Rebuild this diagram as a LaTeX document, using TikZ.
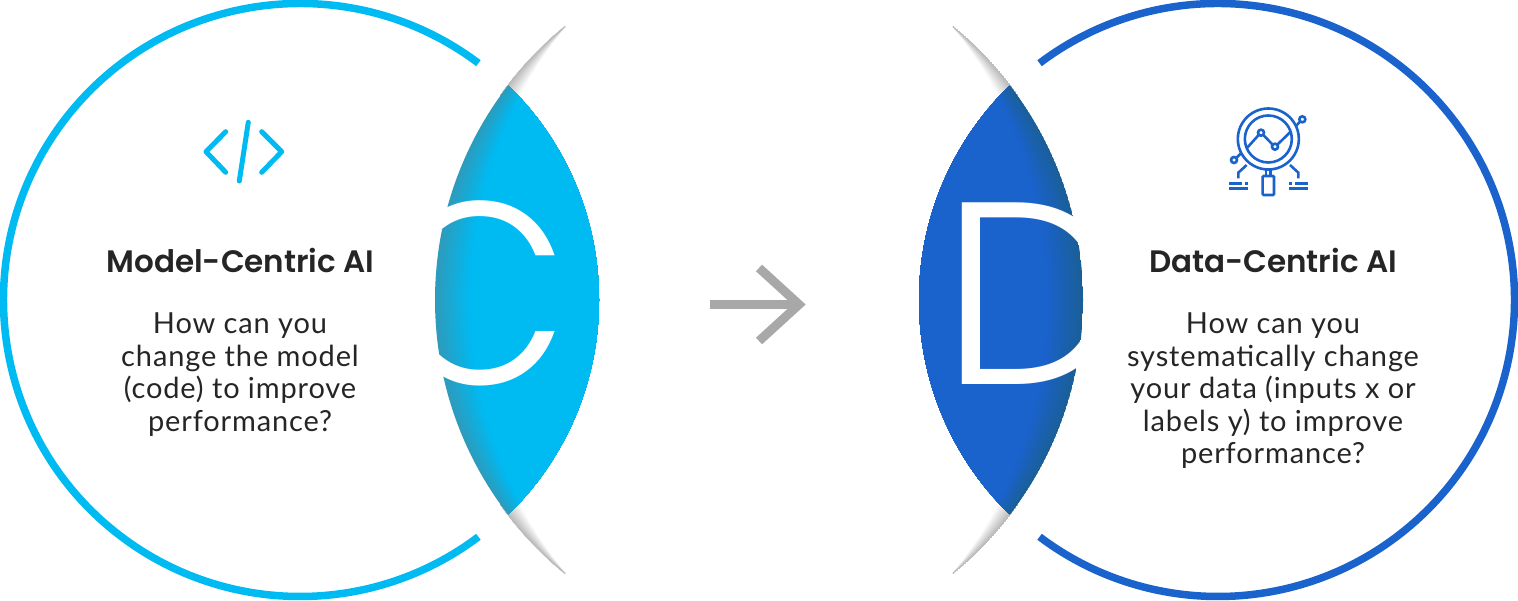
\documentclass[tikz,border=0pt]{standalone}
\usepackage{fontspec}
\setmainfont{Lato}[LetterSpace=3]
\newfontfamily\titlefont{Poppins}[UprightFont=* SemiBold]
\newfontfamily\letterfont{Poppins}[UprightFont=* Light]
\definecolor{cyanm}{HTML}{00BAF2}
\definecolor{cyand}{HTML}{2E9BBB}
\definecolor{bluem}{HTML}{1A62CC}
\definecolor{blued}{HTML}{1A5F98}
\definecolor{inkc}{HTML}{252525}
\definecolor{arrowc}{HTML}{A8A8A8}
\tikzset{
  x=1pt,y=1pt,
  ring/.style={line width=7.5pt},
  titletext/.style={font=\titlefont\fontsize{31}{36}\selectfont,text=inkc,inner sep=0pt,anchor=base},
  bodytext/.style={font=\fontsize{29}{32.4}\selectfont,text=inkc,inner sep=0pt,align=center,anchor=north},
  bigletter/.style={font=\letterfont\fontsize{260}{260}\selectfont,text=white,inner sep=0pt,anchor=base},
  iconline/.style={line width=2.6pt},
}
% geometry of the circle through the lens tips and (435+k,300)
\newcommand{\tipcircle}[1]{%
  \pgfmathsetmacro{\pa}{435+#1}%
  \pgfmathsetmacro{\pc}{(565+\pa)/2+273*(273/(2*(565-\pa)))}%
  \pgfmathsetmacro{\pr}{\pc-\pa}%
}
% lens body: nested circles from #2 (edge) to #1
\newcommand{\crescent}[2]{%
  \foreach \k in {0,...,35}{%
    \tipcircle{\k}%
    \pgfmathsetmacro{\pm}{100*\k/35}%
    \fill[#1!\pm!#2] (\pc,300) circle[radius=\pr pt];
  }%
}
% tails: even-odd crescents, lightest first, nothing painted beyond them
\newcommand{\tailshade}{%
  \foreach \k in {35,34,...,1}{%
    \tipcircle{\k}%
    \pgfmathsetmacro{\pm}{100*\k/35}%
    \fill[white!\pm!black!27,even odd rule] (788,300) circle[radius=353pt] (\pc,300) circle[radius=\pr pt];
  }%
}
\newcommand{\lensshape}[2]{%
  \begin{scope}
    \clip (788,300) circle[radius=353pt];
    \begin{scope}
      \clip (500,27) rectangle (605,100) (500,500) rectangle (605,573);
      \tailshade
    \end{scope}
    \clip (300,300) circle[radius=299pt];
    \crescent{#1}{#2}
  \end{scope}
}
\begin{document}
\begin{tikzpicture}
\useasboundingbox (0,0) rectangle (1518,600);
% left
\lensshape{cyanm}{cyand}
\begin{scope}[xshift=1518pt,xscale=-1]
\lensshape{bluem}{blued}
\end{scope}
\draw[ring,cyanm] (300,300) ++(53:296.5pt) arc[start angle=53,end angle=307,radius=296.5pt];
\draw[ring,bluem] (1218,300) ++(127:296.5pt) arc[start angle=127,end angle=-127,radius=296.5pt];
\node[bigletter] (letterc) at (479,215) {\scalebox{0.9}[1]{C}};
\node[bigletter] (letterd) at (1033.5,215) {D};
% titles and bodies
\node[titletext] (titlel) at (240.5,327) {Model-Centric AI};
\node[bodytext] (bodyl) at (240,287) {How can you\\change the model\\(code) to improve\\performance?};
\node[titletext] (titler) at (1273,327) {Data-Centric AI};
\node[bodytext] (bodyr) at (1273,287) {How can you\\systematically change\\your data (inputs x or\\labels y) to improve\\performance?};
% arrow
\coordinate (arrowstart) at (710,295.5);
\coordinate (arrowtip) at (799,295.5);
\draw[arrowc,line width=8.5pt] (arrowstart) -- (arrowtip);
\draw[arrowc,line width=9pt,miter limit=10] (759,332) -- (799,295.5) -- (759,259);
% code icon
\begin{scope}[cyanm,line width=5pt,line cap=round,line join=round]
\draw (225.7,468.3) -- (206,448.3) -- (225.7,427.7);
\draw (261.7,468.3) -- (281.7,448.3) -- (261.7,427.7);
\draw (248.3,477.7) -- (239.3,419);
\end{scope}
% magnifier icon
\begin{scope}[shift={(1210,500)},x=0.3333pt,y=-0.3333pt,bluem,iconline]
\draw (175,117) circle[radius=30.5pt];
\draw (175,117) circle[radius=23.5pt];
\draw[line join=round] (110,145) -- (146,105) (160,105) -- (187,133) (203,133) -- (240,97);
\draw (153,98) circle[radius=3pt];
\draw (195,140) circle[radius=3pt];
\draw (277,58) circle[radius=3pt];
\draw (72,180) circle[radius=3pt];
\draw (258,78) -- (270,65);
\draw (80,173) -- (93,160);
\draw (110,195) -- (85,218) -- (85,235);
\draw (240,195) -- (265,218) -- (265,235);
\draw (58,250) -- (95,250) (105,250) -- (113,250);
\draw (58,266) -- (113,266);
\draw (238,250) -- (246,250) (256,250) -- (293,250);
\draw (238,266) -- (293,266);
\draw (168,208) -- (168,228) (182,208) -- (182,228);
\draw[rounded corners=1pt] (158,228) rectangle (192,285);
\end{scope}
\end{tikzpicture}
\end{document}
